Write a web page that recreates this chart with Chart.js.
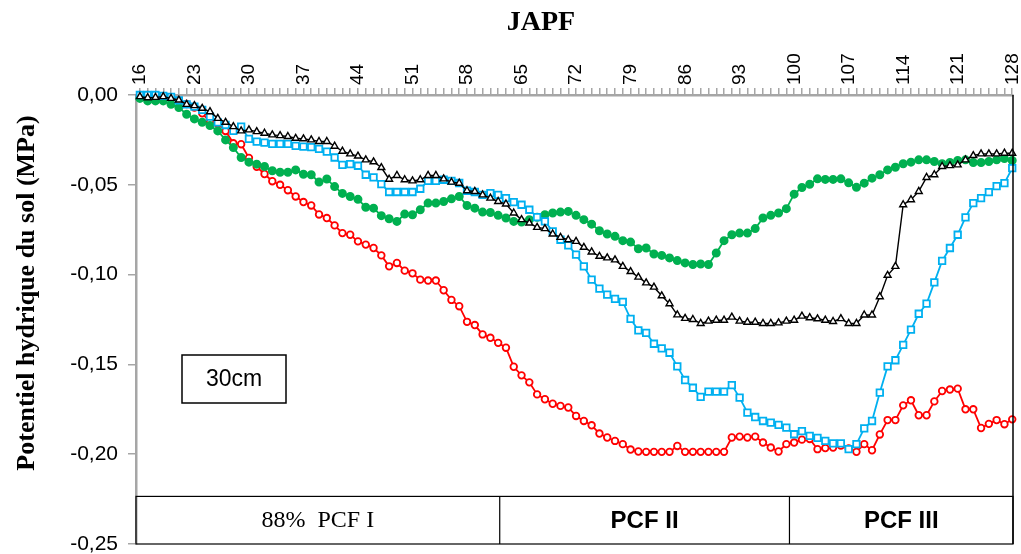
<!DOCTYPE html>
<html>
<head>
<meta charset="utf-8">
<title>Potentiel hydrique du sol - 30cm</title>
<script src="https://cdn.jsdelivr.net/npm/chart.js@4.4.1/dist/chart.umd.min.js"></script>
<style>
    html, body { margin: 0; padding: 0; background: #fff; }
</style>
</head>
<body>
<canvas id="soilChart" width="1021" height="554"></canvas>
<script>
// Soil water potential at 30cm - daily readings (JAPF)

const days = [
    16, 17, 18, 19, 20, 21, 22, 23, 24, 25, 26, 27, 28, 29, 30, 31, 32, 33, 34, 35,
    36, 37, 38, 39, 40, 41, 42, 43, 44, 45, 46, 47, 48, 49, 50, 51, 52, 53, 54, 55,
    56, 57, 58, 59, 60, 61, 62, 63, 64, 65, 66, 67, 68, 69, 70, 71, 72, 73, 74, 75,
    76, 77, 78, 79, 80, 81, 82, 83, 84, 85, 86, 87, 88, 89, 90, 91, 92, 93, 94, 95,
    96, 97, 98, 99, 100, 101, 102, 103, 104, 105, 106, 107, 108, 109, 110, 111, 112, 113, 114, 115,
    116, 117, 118, 119, 120, 121, 122, 123, 124, 125, 126, 127, 128
];

const xTickLabels = [16, 23, 30, 37, 44, 51, 58, 65, 72, 79, 86, 93, 100, 107, 114, 121, 128];

// red, open circles
const seriesRed = [
    0, 0, -0.0005, -0.001, -0.002, -0.003, -0.005, -0.007, -0.0102, -0.015,
    -0.016, -0.020, -0.0269, -0.0274, -0.035, -0.040, -0.044, -0.048, -0.050, -0.053,
    -0.0565, -0.0596, -0.0615, -0.0665, -0.0685, -0.0726, -0.0769, -0.0778, -0.0815, -0.0833,
    -0.0852, -0.0893, -0.0954, -0.0935, -0.0978, -0.0993, -0.1028, -0.1033, -0.1033, -0.1087,
    -0.1141, -0.1176, -0.1263, -0.1281, -0.1333, -0.1352, -0.138, -0.1407, -0.1513, -0.1561,
    -0.160, -0.1667, -0.1694, -0.1719, -0.1731, -0.174, -0.1787, -0.1815, -0.1839, -0.1885,
    -0.1907, -0.1926, -0.1944, -0.1974, -0.1985, -0.1987, -0.1987, -0.1987, -0.1987, -0.1954,
    -0.1987, -0.1987, -0.1987, -0.1987, -0.1987, -0.1987, -0.1907, -0.1902, -0.1907, -0.1902,
    -0.1935, -0.1963, -0.1985, -0.1944, -0.1935, -0.1919, -0.1915, -0.1972, -0.1966, -0.1963,
    -0.1952, -0.1968, -0.1987, -0.1944, -0.1978, -0.189, -0.181, -0.181, -0.1728, -0.170,
    -0.1783, -0.1783, -0.1706, -0.1648, -0.164, -0.1635, -0.175, -0.175, -0.1854, -0.1831,
    -0.181, -0.1833, -0.1806
];

// blue, open squares
const seriesBlue = [
    0, 0, 0, -0.0005, -0.001, -0.003, -0.0052, -0.0065, -0.0083, -0.012,
    -0.0152, -0.0167, -0.020, -0.0176, -0.0244, -0.026, -0.0265, -0.0272, -0.0272, -0.0272,
    -0.0283, -0.0287, -0.029, -0.030, -0.0315, -0.0348, -0.0389, -0.0385, -0.0394, -0.0444,
    -0.0459, -0.0496, -0.054, -0.054, -0.054, -0.054, -0.0522, -0.0478, -0.0478, -0.0472,
    -0.0478, -0.049, -0.0533, -0.054, -0.0556, -0.0546, -0.0556, -0.0574, -0.0596, -0.0611,
    -0.0639, -0.068, -0.0704, -0.0759, -0.0806, -0.0837, -0.0889, -0.0954, -0.1028, -0.1078,
    -0.1111, -0.1135, -0.1152, -0.1246, -0.1311, -0.1324, -0.1385, -0.1411, -0.1435, -0.1511,
    -0.1587, -0.163, -0.1681, -0.1652, -0.1652, -0.1652, -0.1615, -0.1685, -0.1769, -0.1793,
    -0.1815, -0.1824, -0.1837, -0.1852, -0.1889, -0.1872, -0.1898, -0.1909, -0.1926, -0.194,
    -0.194, -0.1972, -0.1944, -0.1856, -0.1815, -0.1657, -0.1511, -0.1477, -0.1391, -0.1306,
    -0.1218, -0.1162, -0.1043, -0.0924, -0.0852, -0.0778, -0.0681, -0.0602, -0.0574, -0.0541,
    -0.0507, -0.0491, -0.0407
];

// black, open triangles
const seriesBlack = [
    -0.0009, -0.0015, -0.0013, -0.0009, -0.0019, -0.0028, -0.0052, -0.0059, -0.0074, -0.0093,
    -0.013, -0.0152, -0.0176, -0.020, -0.0194, -0.0204, -0.0213, -0.0222, -0.0226, -0.0231,
    -0.0241, -0.0244, -0.025, -0.0259, -0.0259, -0.0285, -0.0313, -0.0328, -0.034, -0.0361,
    -0.0372, -0.0404, -0.0469, -0.0448, -0.0472, -0.0478, -0.0472, -0.0448, -0.0448, -0.0467,
    -0.0485, -0.0491, -0.0533, -0.0537, -0.0556, -0.0574, -0.0593, -0.0607, -0.0657, -0.0694,
    -0.0713, -0.0737, -0.0744, -0.0774, -0.0793, -0.0806, -0.0815, -0.0848, -0.0874, -0.0898,
    -0.0907, -0.0918, -0.0954, -0.0983, -0.1014, -0.1046, -0.107, -0.1118, -0.1162, -0.1224,
    -0.1244, -0.125, -0.1272, -0.1259, -0.1254, -0.1254, -0.1237, -0.1259, -0.1265, -0.1265,
    -0.1272, -0.1272, -0.1269, -0.1259, -0.1254, -0.1231, -0.124, -0.1246, -0.1254, -0.1261,
    -0.1245, -0.1272, -0.1272, -0.1225, -0.1225, -0.1123, -0.1004, -0.0954, -0.0611, -0.0583,
    -0.0537, -0.0459, -0.0444, -0.0398, -0.0393, -0.0389, -0.0361, -0.0337, -0.0328, -0.0328,
    -0.0328, -0.0324, -0.0324
];

// green, filled circles
const seriesGreen = [
    -0.0019, -0.0033, -0.0033, -0.0033, -0.0052, -0.007, -0.0107, -0.0133, -0.0152, -0.017,
    -0.020, -0.025, -0.0293, -0.0348, -0.0374, -0.0385, -0.0398, -0.0422, -0.043, -0.043,
    -0.0417, -0.0441, -0.0444, -0.0485, -0.0468, -0.051, -0.0548, -0.0565, -0.0581, -0.0625,
    -0.063, -0.0672, -0.0689, -0.0704, -0.0663, -0.0667, -0.0639, -0.0602, -0.0602, -0.0593,
    -0.0578, -0.0565, -0.0615, -0.063, -0.0652, -0.0654, -0.067, -0.0685, -0.0704, -0.0707,
    -0.0694, -0.0681, -0.0667, -0.0657, -0.0652, -0.0648, -0.067, -0.0694, -0.0719, -0.0756,
    -0.0774, -0.0787, -0.0811, -0.0819, -0.0856, -0.0852, -0.0885, -0.0893, -0.0907, -0.0922,
    -0.0935, -0.0944, -0.0941, -0.0944, -0.088, -0.0811, -0.0778, -0.0769, -0.0769, -0.0744,
    -0.0685, -0.067, -0.0657, -0.0633, -0.0552, -0.0515, -0.0497, -0.0467, -0.047, -0.047,
    -0.0467, -0.0489, -0.0514, -0.0491, -0.0463, -0.0444, -0.0417, -0.0402, -0.0383, -0.0374,
    -0.0361, -0.0361, -0.037, -0.0383, -0.0376, -0.0365, -0.0361, -0.0376, -0.0376, -0.037,
    -0.0361, -0.0354, -0.0365
];

// growth phases shown in the table under the curves
const phaseBounds = [62.2, 99.4];
const phaseLabels = ['88%  PCF I', 'PCF II', 'PCF III'];
const tableTop = -0.2235;

function toPoints(values) {
    return days.map((d, i) => ({ x: d, y: values[i] }));
}

// Draws titles, the right border, the phase table and the "30cm" box
const decorations = {
    id: 'decorations',
    afterDraw(chart) {
        const { ctx, chartArea: a, scales: { x, y } } = chart;
        ctx.save();

        // right border
        ctx.strokeStyle = '#000';
        ctx.lineWidth = 1.5;
        ctx.beginPath();
        ctx.moveTo(a.right, a.top);
        ctx.lineTo(a.right, a.bottom);
        ctx.stroke();

        // phase table
        const top = y.getPixelForValue(tableTop);
        const edges = [a.left, x.getPixelForValue(phaseBounds[0]), x.getPixelForValue(phaseBounds[1]), a.right];
        ctx.lineWidth = 1.2;
        ctx.strokeRect(a.left, top, a.right - a.left, a.bottom - top);
        ctx.beginPath();
        ctx.moveTo(edges[1], top); ctx.lineTo(edges[1], a.bottom);
        ctx.moveTo(edges[2], top); ctx.lineTo(edges[2], a.bottom);
        ctx.stroke();

        ctx.fillStyle = '#000';
        ctx.textAlign = 'center';
        ctx.textBaseline = 'middle';
        const midY = (top + a.bottom) / 2;
        phaseLabels.forEach((label, i) => {
            ctx.font = i === 0 ? '24px "Liberation Serif"' : 'bold 24px "Liberation Sans"';
            ctx.fillText(label, (edges[i] + edges[i + 1]) / 2, midY + 1);
        });

        // depth box
        ctx.lineWidth = 1.5;
        ctx.strokeRect(a.left + 46, a.top + 260, 104, 48);
        ctx.font = '23px "Liberation Sans"';
        ctx.fillText('30cm', a.left + 98, a.top + 285);

        // titles
        ctx.font = 'bold 28px "Liberation Serif"';
        ctx.fillText('JAPF', 541, 23);

        ctx.translate(27, 293);
        ctx.rotate(-Math.PI / 2);
        ctx.font = 'bold 26px "Liberation Serif"';
        ctx.fillText('Potentiel hydrique du sol (MPa)', 0, 0);

        ctx.restore();
    }
};

function pointDataset(values, color, style, extra) {
    return Object.assign({
        data: toPoints(values),
        borderColor: color,
        pointBorderColor: color,
        pointBackgroundColor: '#fff',
        pointStyle: style,
        borderWidth: 1.8,
        pointBorderWidth: 1.8,
        pointRadius: 3.5,
        tension: 0,
        clip: false
    }, extra);
}

new Chart(document.getElementById('soilChart'), {
    type: 'line',
    data: {
        datasets: [
            pointDataset(seriesBlack, '#000000', 'triangle', { order: 0, borderWidth: 1.4, pointBorderWidth: 1.4, pointRadius: 4 }),
            pointDataset(seriesBlue, '#00B0F0', 'rect', { order: 1, pointRadius: 4.6 }),
            pointDataset(seriesGreen, '#00B050', 'circle', { order: 2, pointBackgroundColor: '#00B050', pointRadius: 3.6 }),
            pointDataset(seriesRed, '#FF0000', 'circle', { order: 3, pointRadius: 3.3 })
        ]
    },
    options: {
        responsive: false,
        animation: false,
        layout: {
            padding: { left: 0, right: 8, top: 0, bottom: 10 }
        },
        plugins: {
            legend: { display: false },
            tooltip: { enabled: false }
        },
        scales: {
            x: {
                type: 'linear',
                position: 'top',
                min: 15.5,
                max: 128.1,
                afterBuildTicks: function(scale) {
                    scale.ticks = days.map(d => ({ value: d }));
                },
                afterFit: function(scale) {
                    scale.height = 95;
                    scale.paddingLeft = 0;
                    scale.paddingRight = 0;
                },
                ticks: {
                    autoSkip: false,
                    minRotation: 90,
                    maxRotation: 90,
                    padding: 3,
                    labelOffset: 23,
                    color: '#000',
                    font: {
                        family: '"Liberation Sans", Arial, sans-serif',
                        size: 19
                    },
                    callback: function(value) {
                        return xTickLabels.includes(value) ? String(value) : '';
                    }
                },
                grid: {
                    drawOnChartArea: false,
                    tickLength: 7,
                    color: '#A6A6A6',
                    lineWidth: 1.5
                },
                border: {
                    color: '#A6A6A6',
                    width: 2.5
                }
            },
            y: {
                min: -0.25,
                max: 0,
                afterFit: function(scale) {
                    scale.width = 136;
                    scale.paddingTop = 0;
                    scale.paddingBottom = 0;
                },
                ticks: {
                    stepSize: 0.05,
                    padding: 10,
                    color: '#000',
                    font: {
                        family: '"Liberation Sans", Arial, sans-serif',
                        size: 21
                    },
                    callback: function(value) {
                        if (Math.abs(value) < 1e-9) return '0,00';
                        return value.toFixed(2).replace('.', ',');
                    }
                },
                grid: {
                    drawOnChartArea: false,
                    tickLength: 8,
                    color: '#A6A6A6',
                    lineWidth: 1.5
                },
                border: {
                    color: '#A6A6A6',
                    width: 2.5
                }
            }
        }
    },
    plugins: [decorations]
});
</script>
</body>
</html>
